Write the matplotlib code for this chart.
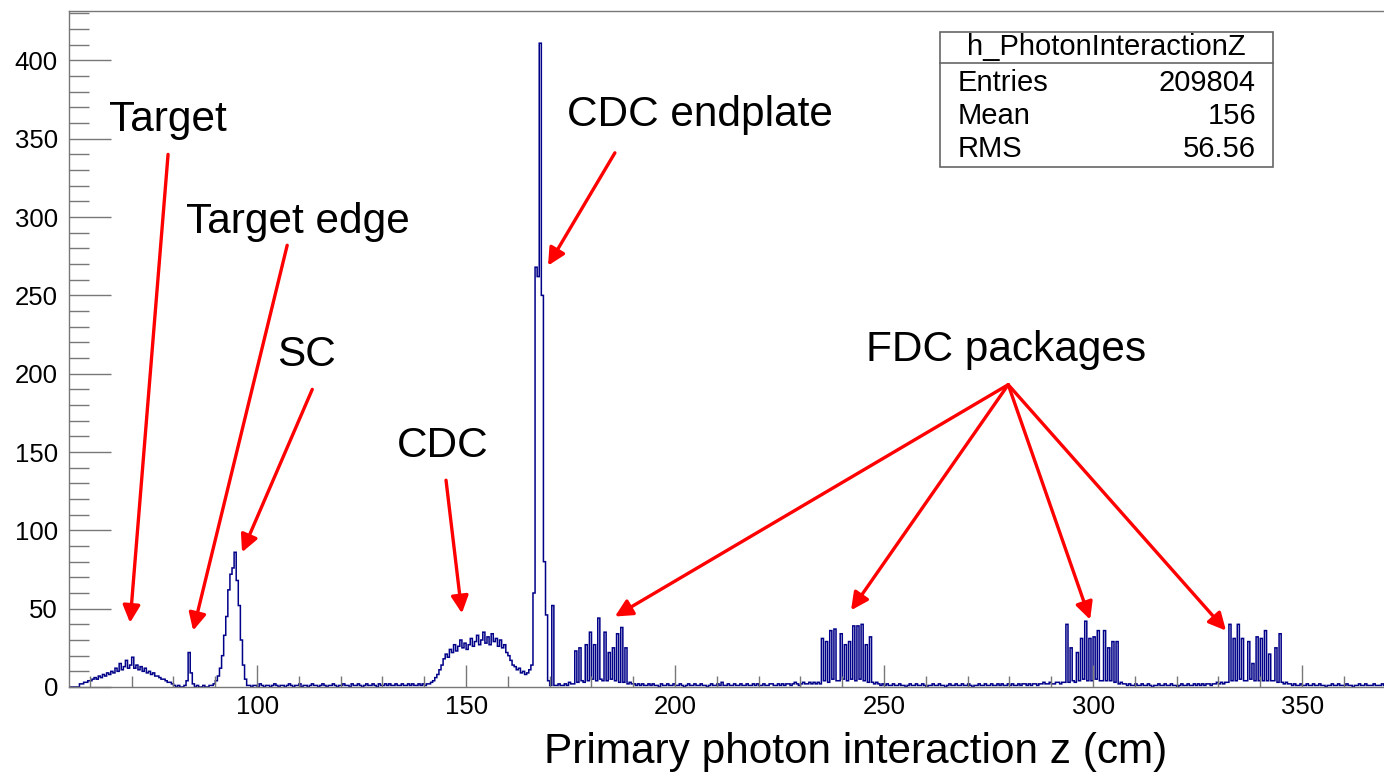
import numpy as np
import matplotlib
matplotlib.use("Agg")
import matplotlib.pyplot as plt
from matplotlib.ticker import MultipleLocator
from matplotlib.patches import Rectangle

plt.rcParams['font.family'] = ['Liberation Sans', 'DejaVu Sans']

# ---------------- data (bin width 0.5 cm, starting at z = 55 cm) ----------------
BIN_W = 0.5
Z_START = 55.0

empty_55_57 = [0, 0, 0, 0, 0]
target = [2, 2, 3, 3, 4, 4, 5, 6, 5, 7, 6, 8, 7, 9, 8, 10, 9, 12, 10, 15,
          11, 13, 17, 12, 14, 19, 12, 14, 11, 13, 10, 12, 9, 10, 8, 9, 7, 7, 6, 5,
          5, 4, 3, 3, 2, 1]
gap_80_83 = [0, 1, 0, 0, 1]
target_edge = [4, 22, 9, 2, 0]
gap_85_89 = [1, 0, 0, 1, 0, 0, 1, 1]
sc = [2, 4, 7, 12, 20, 33, 45, 62, 72, 76, 86, 68, 52, 30, 14, 5, 1]
bg_98_140 = [1, 0, 1, 1, 0, 2, 1, 0, 1, 1, 0, 1, 2, 1, 0, 1, 1, 0, 1, 2,
             1, 0, 1, 1, 2, 0, 1, 1, 0, 1, 2, 1, 1, 0, 1, 2, 1, 0, 1, 1,
             2, 1, 0, 1, 1, 2, 1, 1, 0, 2, 1, 1, 2, 1, 0, 1, 2, 1, 1, 2,
             1, 0, 2, 1, 1, 2, 1, 2, 1, 1, 2, 1, 1, 2, 1, 1, 2, 1, 2, 1,
             1, 2, 1, 2]
cdc = [1, 2, 2, 3, 4, 6, 8, 11, 14, 18, 21, 19, 24, 22, 27, 23, 26, 30, 25, 28,
       24, 27, 31, 26, 29, 33, 27, 30, 35, 28, 32, 27, 34, 29, 31, 26, 30, 25, 27, 22,
       20, 17, 14, 13, 11, 12, 9, 10, 8, 9, 11]
cdc_endplate = [14, 60, 268, 262, 411, 250, 80, 46, 4]
after_endplate = [1, 52, 1]
bg_171_176 = [1, 2, 1, 1, 2, 1, 3, 2, 2]
fdc1 = [23, 3, 25, 4, 3, 27, 4, 35, 5, 27, 4, 44, 5, 4, 35, 4, 22, 5, 25, 4,
        34, 3, 38, 3, 25, 2]
bg_189_235 = [3, 2, 2, 1, 2, 1, 2, 1, 1, 2, 1, 2, 1, 1, 0, 2, 1, 1, 2, 1,
              1, 2, 1, 1, 2, 1, 0, 1, 2, 1, 1, 2, 1, 1, 2, 1, 1, 0, 1, 2,
              1, 1, 2, 1, 3, 1, 1, 2, 1, 1, 2, 1, 1, 2, 1, 1, 2, 1, 1, 2,
              1, 2, 1, 1, 2, 1, 1, 2, 2, 1, 1, 2, 1, 2, 1, 2, 2, 1, 2, 3,
              2, 1, 2, 3, 2, 2, 3, 2, 3, 2, 3, 2]
fdc2 = [31, 4, 29, 3, 36, 5, 37, 4, 4, 34, 5, 27, 4, 29, 5, 39, 4, 39, 5, 40,
        4, 27, 3, 32, 3]
bg_247_293 = [2, 3, 2, 1, 2, 1, 2, 1, 1, 2, 1, 1, 2, 1, 1, 0, 1, 2, 1, 1,
              2, 1, 1, 2, 1, 0, 1, 1, 2, 1, 1, 2, 1, 1, 0, 1, 2, 1, 1, 2,
              1, 1, 2, 1, 1, 2, 1, 0, 1, 1, 2, 1, 1, 2, 1, 1, 2, 1, 1, 2,
              1, 2, 1, 1, 2, 1, 2, 1, 1, 2, 1, 2, 2, 1, 2, 1, 2, 2, 1, 2,
              2, 3, 2, 2, 3, 2, 2, 3, 3, 2, 3, 3]
fdc3 = [40, 3, 25, 4, 3, 22, 4, 31, 5, 42, 4, 31, 4, 32, 5, 36, 4, 4, 36, 4,
        25, 4, 29, 3, 29]
bg_306_332 = [2, 3, 2, 2, 1, 2, 1, 1, 2, 1, 1, 2, 1, 1, 2, 1, 0, 1, 1, 2,
              1, 1, 2, 1, 1, 2, 1, 1, 0, 1, 2, 1, 1, 2, 1, 1, 2, 1, 2, 1,
              2, 1, 2, 2, 1, 2, 2, 3, 2, 3, 2, 3, 3]
fdc4 = [40, 4, 31, 4, 40, 5, 31, 4, 4, 29, 5, 15, 4, 32, 4, 31, 4, 36, 4, 21,
        4, 4, 25, 3, 34]
bg_345_370 = [3, 2, 3, 2, 2, 1, 2, 1, 1, 2, 1, 1, 2, 1, 1, 2, 1, 1, 2, 1,
              1, 0, 1, 1, 2, 1, 1, 2, 1, 1, 1, 2, 1, 1, 0, 1, 1, 2, 1, 1,
              2, 1, 1, 1, 2, 1, 1, 1, 2, 1]

stats_title = "h_PhotonInteractionZ"
stats_labels = ["Entries", "Mean", "RMS"]
stats_values = ["209804", "156", "56.56"]

x_title = "Primary photon interaction z (cm)"

# annotations: (text, text position (z, counts), arrow start, list of arrow tips)
annotations = [
    ("Target", (78.7, 362), (78.7, 340), [(69.6, 41)]),
    ("Target edge", (109.8, 297), (107.2, 282), [(84.7, 36)]),
    ("SC", (111.7, 212), (113.2, 190), [(96.4, 86)]),
    ("CDC", (144.5, 154), (145.2, 132), [(149.0, 47)]),
    ("CDC endplate", (206.0, 365), (185.6, 341), [(169.6, 269)]),
    ("FDC packages", (279.2, 215), (279.7, 193),
     [(185.6, 45), (242.1, 49), (299.3, 43), (331.8, 36)]),
]

# ---------------- assemble histogram ----------------
counts = np.array(empty_55_57 + target + gap_80_83 + target_edge + gap_85_89 + sc
                  + bg_98_140 + cdc + cdc_endplate + after_endplate + bg_171_176
                  + fdc1 + bg_189_235 + fdc2 + bg_247_293 + fdc3 + bg_306_332
                  + fdc4 + bg_345_370, dtype=float)
edges = Z_START + BIN_W * np.arange(len(counts) + 1)

W, H = 1384, 772
fig = plt.figure(figsize=(W / 100, H / 100), dpi=100)
ax_left, ax_right, ax_top, ax_bot = 69, 1384, 11, 687
ax = fig.add_axes([ax_left / W, 1 - ax_bot / H, (ax_right - ax_left) / W, (ax_bot - ax_top) / H])

hist_color = '#000088'
ax.stairs(counts, edges, color=hist_color, linewidth=1.1)

ax.set_xlim(55.0, 369.6)
ax.set_ylim(0, 1.05 * counts.max())

frame_col = '#777777'
for s in ['left', 'bottom', 'top']:
    ax.spines[s].set_color(frame_col)
    ax.spines[s].set_linewidth(1.0)
ax.spines['right'].set_visible(False)

ax.xaxis.set_major_locator(MultipleLocator(50))
ax.xaxis.set_minor_locator(MultipleLocator(10))
ax.yaxis.set_major_locator(MultipleLocator(50))
ax.yaxis.set_minor_locator(MultipleLocator(10))
ax.tick_params(axis='y', which='major', direction='in', length=30, width=1, color=frame_col,
               labelsize=18.5, pad=8)
ax.tick_params(axis='y', which='minor', direction='in', length=14.5, width=1, color=frame_col)
ax.tick_params(axis='x', which='major', direction='in', length=16, width=1, color=frame_col,
               labelsize=18.5, pad=6)
ax.tick_params(axis='x', which='minor', direction='in', length=8, width=1, color=frame_col)
ax.tick_params(top=False, right=False, which='both')

fig.text(856 / W, 1 - 763 / H, x_title, ha='center', va='baseline', fontsize=30.5)

# annotations
for text, tpos, start, tips in annotations:
    ax.text(tpos[0], tpos[1], text, ha='center', va='center', fontsize=30.5, color='black')
    for tip in tips:
        ax.annotate('', xy=tip, xytext=start, xycoords='data', textcoords='data',
                    arrowprops=dict(arrowstyle='-|>', color='#ff0000', lw=2.4,
                                    mutation_scale=26, shrinkA=0, shrinkB=0))

# stats box (figure pixel coordinates)
bx0, bx1, by0, by1 = 940, 1273, 32, 167
sep_y = 63
fig.patches.append(Rectangle((bx0 / W, 1 - by1 / H), (bx1 - bx0) / W, (by1 - by0) / H,
                             transform=fig.transFigure, facecolor='white',
                             edgecolor='#666666', linewidth=1.2, zorder=5))
fig.lines.append(plt.Line2D([bx0 / W, bx1 / W], [1 - sep_y / H, 1 - sep_y / H],
                            transform=fig.transFigure, color='#666666', linewidth=1.2, zorder=6))
fig.text((bx0 + bx1) / 2 / W, 1 - 47 / H, stats_title, ha='center', va='center',
         fontsize=21, zorder=7)
row_y = [83, 116, 149]
for lab, val, ry in zip(stats_labels, stats_values, row_y):
    fig.text(958 / W, 1 - ry / H, lab, ha='left', va='center', fontsize=21, zorder=7)
    fig.text(1256 / W, 1 - ry / H, val, ha='right', va='center', fontsize=21, zorder=7)

fig.savefig('out.png', dpi=100)
